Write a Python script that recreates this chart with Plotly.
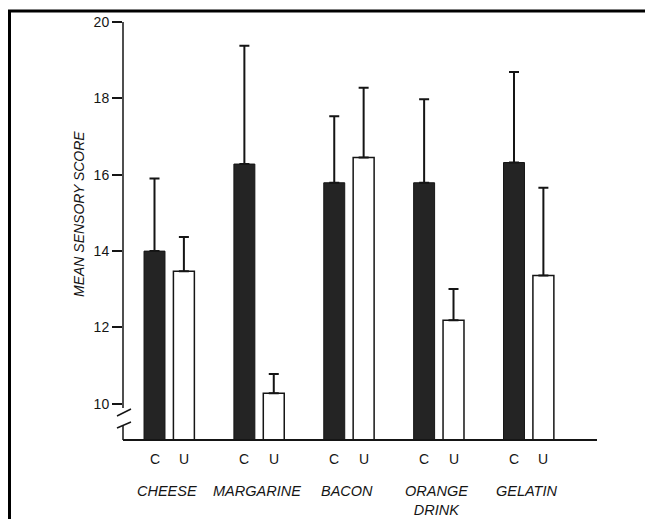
import plotly.graph_objects as go

# ---- data ----
categories = ["CHEESE", "MARGARINE", "BACON", "ORANGE DRINK", "GELATIN"]
category_labels = ["CHEESE", "MARGARINE", "BACON", "ORANGE<br>DRINK", "GELATIN"]
c_means = [14.0, 16.28, 15.79, 15.79, 16.32]
c_sd = [1.9, 3.1, 1.74, 2.19, 2.37]
u_means = [13.47, 10.28, 16.45, 12.19, 13.36]
u_sd = [0.9, 0.5, 1.83, 0.82, 2.3]
y_ticks = [10, 12, 14, 16, 18, 20]
y_range = [9.08, 20]

FONT = "Liberation Sans, Arial, Helvetica, sans-serif"
INK = "#151515"

# plot area in pixels (for decorations only)
W, H = 645, 519
L, R, T, B = 123, 597, 22, 439


def xp(px):
    return (px - L) / (R - L)


def yp(py):
    return (B - py) / (B - T)


fig = go.Figure()
fig.add_trace(go.Bar(
    name="C", x=categories, y=c_means,
    marker=dict(color="#242424", line=dict(color=INK, width=1)),
    error_y=dict(type="data", array=c_sd, arrayminus=[0] * len(c_sd), symmetric=False,
                 color=INK, thickness=2, width=5),
))
fig.add_trace(go.Bar(
    name="U", x=categories, y=u_means,
    marker=dict(color="white", line=dict(color=INK, width=1.5)),
    error_y=dict(type="data", array=u_sd, arrayminus=[0] * len(u_sd), symmetric=False,
                 color=INK, thickness=2, width=5),
))

bargap = 0.346
fig.update_layout(
    width=W, height=H,
    margin=dict(l=L, r=W - R, t=T, b=H - B, pad=0),
    paper_bgcolor="white", plot_bgcolor="white",
    barmode="group", bargap=bargap, bargroupgap=0.287,
    showlegend=False,
    font=dict(family=FONT, color=INK),
    xaxis=dict(type="category", range=[-0.514, 4.76], showline=True, linecolor=INK,
               linewidth=2, ticks="", showticklabels=False, showgrid=False, zeroline=False,
               fixedrange=True),
    yaxis=dict(range=y_range, tickvals=y_ticks, ticks="outside", ticklen=10, tickwidth=1.5,
               tickcolor=INK, showline=False, showgrid=False, zeroline=False,
               tickfont=dict(size=14, family=FONT, color=INK), fixedrange=True),
)

line = dict(color=INK, width=1.5)
shapes = [
    # y-axis line with break
    dict(type="line", xref="paper", yref="paper", x0=xp(123), x1=xp(123), y0=yp(22), y1=yp(408), line=line),
    dict(type="line", xref="paper", yref="paper", x0=xp(123), x1=xp(123), y0=yp(425), y1=yp(440), line=line),
    dict(type="line", xref="paper", yref="paper", x0=xp(117), x1=xp(131), y0=yp(416), y1=yp(409), line=line),
    dict(type="line", xref="paper", yref="paper", x0=xp(117), x1=xp(131), y0=yp(428), y1=yp(422), line=line),
    # picture frame
    dict(type="line", xref="paper", yref="paper", x0=xp(9.5), x1=xp(9.5), y0=yp(10), y1=yp(530),
         line=dict(color="black", width=3)),
    dict(type="line", xref="paper", yref="paper", x0=xp(8), x1=xp(660), y0=yp(11), y1=yp(11),
         line=dict(color="black", width=3)),
]
fig.update_layout(shapes=shapes)

slot_px = (1 - bargap) / 4 * (R - L) / (4.76 + 0.514)
annotations = []
for cat, lab in zip(categories, category_labels):
    for txt, sh in (("C", -slot_px), ("U", slot_px)):
        annotations.append(dict(x=cat, xref="x", y=0, yref="paper", xshift=sh, yshift=-20,
                                text=txt, showarrow=False, xanchor="center", yanchor="middle",
                                font=dict(size=14, family=FONT, color=INK)))
    annotations.append(dict(x=cat, xref="x", y=0, yref="paper", yshift=-42, xshift=-2,
                            text="<i>" + lab + "</i>", showarrow=False, xanchor="center",
                            yanchor="top", font=dict(size=14.5, family=FONT, color=INK)))
annotations.append(dict(x=xp(79), xref="paper", y=yp(214), yref="paper",
                        text="<i>MEAN SENSORY SCORE</i>", textangle=-90, showarrow=False,
                        xanchor="center", yanchor="middle",
                        font=dict(size=14, family=FONT, color=INK)))
fig.update_layout(annotations=annotations)

fig.write_html("out.html")
